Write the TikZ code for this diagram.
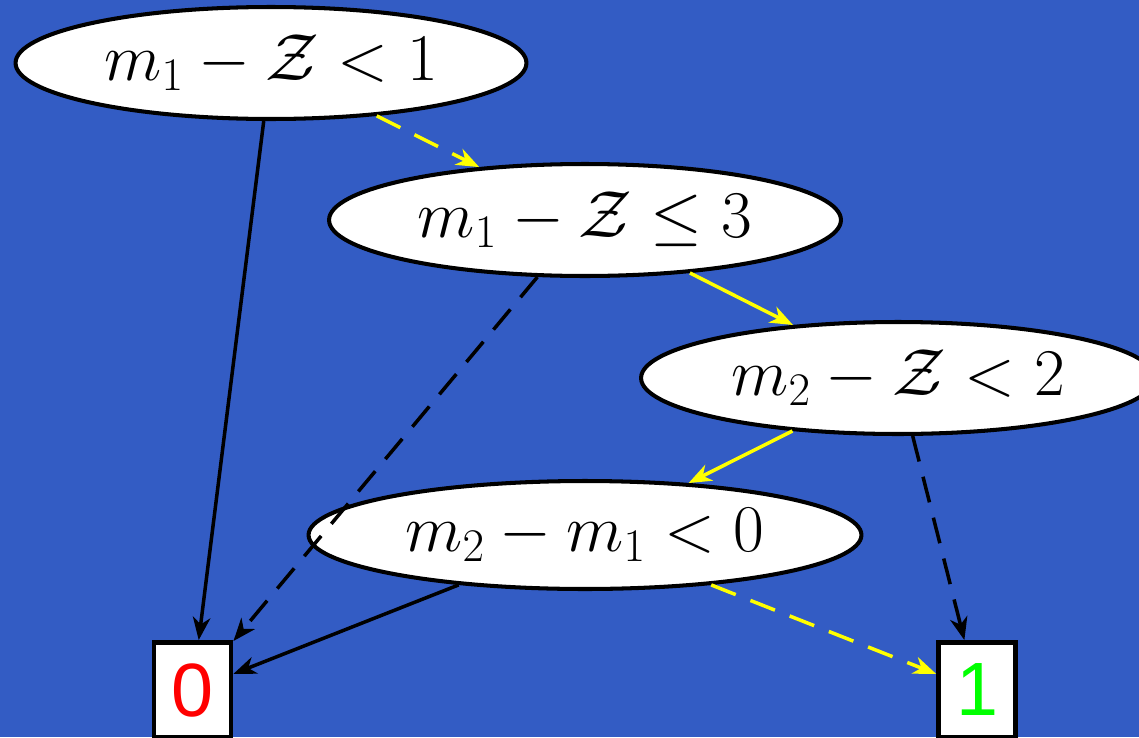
\RequirePackage{fix-cm}
\documentclass[tikz,border=0pt]{standalone}
\usepackage{fontspec}
\setsansfont{Liberation Sans}
\usepackage{tikz}
\usetikzlibrary{arrows.meta, shapes.geometric}
\definecolor{slide}{HTML}{335CC4}
\definecolor{hi}{HTML}{FFFF00}
\definecolor{nein}{HTML}{FF0000}
\definecolor{ja}{HTML}{00FF00}

\tikzset{
  test/.style={ellipse, draw=black, fill=white, line width=2.3pt, inner sep=0pt,
    minimum height=2.24cm, font=\fontsize{38}{45}\selectfont},
  leaf/.style={rectangle, draw=black, fill=white, line width=2.8pt, inner sep=0pt,
    minimum width=1.54cm, minimum height=1.9cm, font=\sffamily\fontsize{43}{49}\selectfont},
  lo/.style={black, line width=2pt, -{Stealth[length=13pt, width=10pt, inset=4pt]}},
  hiedge/.style={hi, line width=2pt, -{Stealth[length=13pt, width=10pt, inset=4pt]}},
  dsh/.style={dash pattern=on 15pt off 9pt}
}

\begin{document}
\begin{tikzpicture}[x=0.02cm, y=-0.02cm]
    % Hintergrund
    \fill[slide] (0,0) rectangle (1139,737);
    \useasboundingbox (0,0) rectangle (1139,737);
    % Entscheidungsknoten
    \node[test, minimum width=10.22cm] (t1) at (271,63) {$m_1-\mathcal{Z}<1$};
    \node[test, minimum width=10.24cm] (t2) at (585,220) {$m_1-\mathcal{Z}\le 3$};
    \node[test, minimum width=10.28cm] (t3) at (898,378) {$m_2-\mathcal{Z}<2$};
    \node[test, minimum width=11.06cm, minimum height=2.16cm] (t4) at (585,535) {$m_2-m_1<0$};
    % Blaetter
    \node[leaf, text=nein] (f) at (192.5,690) {0};
    \node[leaf, text=ja] (w) at (977,690) {1};
    % Kanten
    \draw[lo] (t1) -- (f);
    \draw[hiedge, dsh] (t1) -- (t2);
    \draw[lo, dsh] (t2) -- (f);
    \draw[hiedge] (t2) -- (t3);
    \draw[hiedge] (t3) -- (t4);
    \draw[lo, dsh] (t3) -- (w);
    \draw[lo] (t4) -- (f);
    \draw[hiedge, dsh] (t4) -- (w);
  \end{tikzpicture}
\end{document}
